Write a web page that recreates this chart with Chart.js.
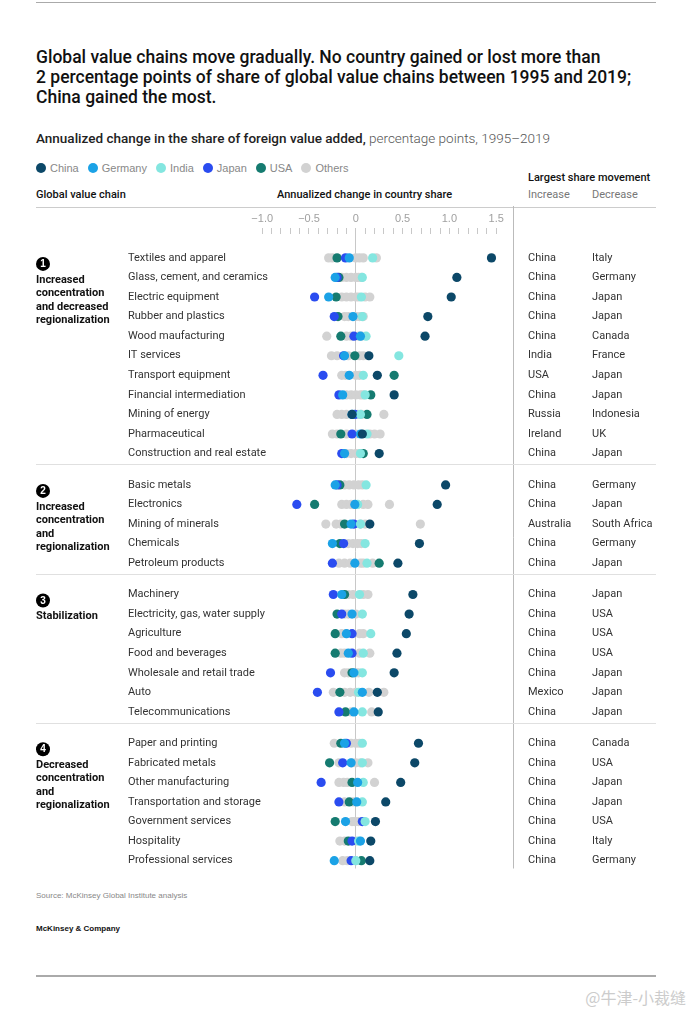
<!DOCTYPE html>
<html>
<head>
<meta charset="utf-8">
<script src="https://cdn.jsdelivr.net/npm/chart.js@4.4.1/dist/chart.umd.min.js"></script>
<style>
    body { margin: 0; background: #fff; }
    #page { position: relative; width: 690px; height: 1011px; background: #fff; font-family: "Liberation Sans", Arial, sans-serif; color: #222; overflow: hidden; }
    .abs { position: absolute; white-space: nowrap; }
    .title { left: 36px; top: 47px; font-family: "Roboto", sans-serif; font-weight: 500; font-size: 17.5px; line-height: 20px; color: #111; }
    .sub { left: 36px; top: 130px; font-family: "Roboto", sans-serif; font-size: 13.5px; color: #222; font-weight: 500; }
    .sub span { font-weight: 300; color: #555; }
    .legend { left: 36px; top: 162px; font-size: 11px; color: #888; display: flex; align-items: center; }
    .legend i { display: inline-block; width: 10px; height: 10px; border-radius: 50%; margin-right: 4px; }
    .legend b { font-weight: normal; margin-right: 9px; }
    .hdr { font-family: "Roboto", sans-serif; font-weight: 500; font-size: 11px; color: #111; }
    .hdr2 { font-family: "Roboto", sans-serif; font-size: 11px; color: #777; }
    .line { position: absolute; left: 36px; width: 620px; }
    #wrap { position: absolute; left: 0; top: 206px; width: 690px; height: 670px; }
</style>
</head>
<body>
<div id="page">
    <div class="line" style="top:2px;height:1px;background:#aaa;"></div>
    <div class="abs title">Global value chains move gradually. No country gained or lost more than<br>2 percentage points of share of global value chains between 1995 and 2019;<br>China gained the most.</div>
    <div class="abs sub">Annualized change in the share of foreign value added, <span>percentage points, 1995–2019</span></div>
    <div class="abs legend" id="legend"></div>
    <div class="abs hdr" style="left:36px;top:188px;">Global value chain</div>
    <div class="abs hdr" style="left:277px;top:188px;">Annualized change in country share</div>
    <div class="abs hdr" style="left:528px;top:171px;">Largest share movement</div>
    <div class="abs hdr2" style="left:528px;top:188px;">Increase</div>
    <div class="abs hdr2" style="left:592px;top:188px;">Decrease</div>
    <div class="line" style="top:207px;height:1px;background:#ccc;"></div>
    <div id="wrap"><canvas id="dots"></canvas></div>
    <div class="abs" style="left:36px;top:891px;font-size:8px;color:#888;">Source: McKinsey Global Institute analysis</div>
    <div class="abs" style="left:36px;top:924px;font-size:8px;color:#111;font-weight:bold;">McKinsey &amp; Company</div>
    <div class="line" style="top:975px;height:2px;background:#aaa;"></div>
    <div class="abs" style="right:4px;top:985px;font-family:'Noto Sans CJK SC',sans-serif;font-size:16px;color:#ccc;">@牛津-小裁缝</div>
</div>
<script>
// Value chains, in the order they are listed
const chains = [
    'Textiles and apparel', 'Glass, cement, and ceramics', 'Electric equipment', 'Rubber and plastics',
    'Wood maufacturing', 'IT services', 'Transport equipment', 'Financial intermediation',
    'Mining of energy', 'Pharmaceutical', 'Construction and real estate',
    'Basic metals', 'Electronics', 'Mining of minerals', 'Chemicals', 'Petroleum products',
    'Machinery', 'Electricity, gas, water supply', 'Agriculture', 'Food and beverages',
    'Wholesale and retail trade', 'Auto', 'Telecommunications',
    'Paper and printing', 'Fabricated metals', 'Other manufacturing', 'Transportation and storage',
    'Government services', 'Hospitality', 'Professional services'
];
const groupSizes = [11, 5, 7, 7];
const groupLabels = [
    ['Increased', 'concentration', 'and decreased', 'regionalization'],
    ['Increased', 'concentration', 'and', 'regionalization'],
    ['Stabilization'],
    ['Decreased', 'concentration', 'and', 'regionalization']
];

// Annualized change in country share, percentage points
const china   = [1.45, 1.08, 1.02, 0.77, 0.74, 0.14, 0.23, 0.41, -0.04, 0.07, 0.25,
                 0.96, 0.87, 0.15, 0.68, 0.45,
                 0.61, 0.57, 0.54, 0.44, 0.41, 0.23, 0.24,
                 0.67, 0.63, 0.48, 0.32, 0.21, 0.16, 0.15];
const germany = [-0.07, -0.22, -0.29, -0.03, 0.05, -0.12, -0.07, -0.14, -0.04, 0.05, -0.12,
                 -0.22, -0.01, -0.05, -0.25, -0.01,
                 -0.15, -0.04, -0.10, -0.08, -0.02, 0.07, -0.02,
                 -0.12, -0.05, 0.02, 0.01, -0.11, 0.05, -0.23];
const india   = [0.18, 0.07, 0.06, 0.07, 0.11, 0.46, 0.08, 0.10, 0.05, 0.12, 0.05,
                 0.11, 0.02, 0.05, 0.10, 0.12,
                 0.04, 0.07, 0.16, 0.08, 0.07, 0.03, 0.07,
                 0.07, 0.07, 0.08, 0.07, 0.10, 0.03, 0.00];
const japan   = [-0.11, -0.20, -0.44, -0.23, -0.02, -0.13, -0.35, -0.18, -0.01, -0.04, -0.15,
                 -0.20, -0.63, -0.02, -0.13, -0.25,
                 -0.24, -0.15, -0.04, -0.04, -0.27, -0.41, -0.18,
                 -0.10, -0.14, -0.37, -0.18, 0.07, -0.04, -0.05];
const usa     = [-0.20, -0.18, -0.21, -0.19, -0.16, -0.01, 0.41, 0.16, 0.12, -0.16, 0.08,
                 -0.17, -0.44, -0.12, -0.17, 0.25,
                 -0.12, -0.20, -0.22, -0.22, -0.04, -0.17, -0.11,
                 -0.16, -0.28, -0.04, -0.07, -0.22, -0.08, 0.06];
const others  = [
    [-0.29, -0.25, 0.00, 0.04, 0.08, 0.22],
    [-0.15, -0.10, -0.05, 0.00, 0.03, 0.06],
    [-0.15, -0.10, -0.05, 0.00, 0.03, 0.10, 0.15],
    [-0.12, -0.08, 0.00, 0.04, 0.08],
    [-0.31, -0.10, -0.05, 0.03, 0.06],
    [-0.26, -0.20, -0.08, 0.04, 0.08],
    [-0.15, -0.11, 0.00, 0.04],
    [-0.10, -0.05, 0.00, 0.05, 0.08],
    [-0.20, -0.15, -0.10, 0.02, 0.06, 0.30],
    [-0.25, -0.20, -0.10, 0.00, 0.15, 0.20, 0.26],
    [-0.10, -0.05, 0.00, 0.04],
    [-0.12, -0.07, -0.02, 0.03, 0.07],
    [-0.15, -0.10, -0.05, 0.08, 0.13, 0.36],
    [-0.32, -0.21, -0.16, 0.05, 0.10, 0.69],
    [-0.08, -0.03, 0.02, 0.06],
    [-0.18, -0.12, -0.06, 0.05, 0.08, 0.18],
    [-0.08, -0.03, 0.08, 0.13],
    [-0.12, -0.08, 0.00],
    [-0.15, -0.10, 0.04, 0.08],
    [-0.16, -0.12, 0.04, 0.15],
    [-0.12, -0.08, 0.00, 0.03],
    [-0.24, -0.12, -0.06, 0.00, 0.14, 0.30],
    [-0.05, 0.17],
    [-0.23, -0.05, 0.00, 0.04],
    [-0.18, -0.04, 0.00, 0.05, 0.13],
    [-0.18, -0.13, -0.09, 0.20],
    [-0.12, -0.03],
    [-0.04, -0.01, 0.03],
    [-0.17, -0.12, 0.00],
    [-0.14, -0.09, 0.00]
];

// Largest share movement
const increase = ['China', 'China', 'China', 'China', 'China', 'India', 'USA', 'China', 'Russia', 'Ireland', 'China',
                  'China', 'China', 'Australia', 'China', 'China',
                  'China', 'China', 'China', 'China', 'China', 'Mexico', 'China',
                  'China', 'China', 'China', 'China', 'China', 'China', 'China'];
const decrease = ['Italy', 'Germany', 'Japan', 'Japan', 'Canada', 'France', 'Japan', 'Japan', 'Indonesia', 'UK', 'Japan',
                  'Germany', 'Japan', 'South Africa', 'Germany', 'Japan',
                  'Japan', 'USA', 'USA', 'USA', 'Japan', 'Japan', 'Japan',
                  'Canada', 'USA', 'Japan', 'Japan', 'USA', 'Italy', 'Germany'];

const xTickLabels = ['−1.0', '−0.5', '0', '0.5', '1.0', '1.5'];

const series = [
    { name: 'China', values: china, color: '#0c4868' },
    { name: 'Germany', values: germany, color: '#1ba2e6' },
    { name: 'India', values: india, color: '#84e6e0' },
    { name: 'Japan', values: japan, color: '#2a4cf0' },
    { name: 'USA', values: usa, color: '#157b70' }
];
const othersColor = '#d2d2d2';

// row positions: one unit per row, plus a gap between groups
const GROUP_GAP = 0.6;
const rowPos = [];
groupSizes.forEach((n, g) => {
    for (let k = 0; k < n; k++) rowPos.push(rowPos.length + g * GROUP_GAP);
});

// Legend
const legend = document.getElementById('legend');
series.concat([{ name: 'Others', color: othersColor }]).forEach(s => {
    legend.insertAdjacentHTML('beforeend', '<i style="background:' + s.color + '"></i><b>' + s.name + '</b>');
});

const datasets = series.map(s => ({
    label: s.name,
    data: s.values.map((v, i) => ({ x: v, y: rowPos[i] })),
    backgroundColor: s.color,
    pointRadius: 4.6,
    pointHoverRadius: 4.6,
    borderWidth: 0
}));
const othersData = [];
others.forEach((row, i) => row.forEach(v => othersData.push({ x: v, y: rowPos[i] })));
datasets.push({
    label: 'Others',
    data: othersData,
    backgroundColor: othersColor,
    pointRadius: 4.6,
    pointHoverRadius: 4.6,
    borderWidth: 0
});

const LABEL_FONT = '11px Roboto, sans-serif';

// Text columns and separators drawn against the y scale
const tablePlugin = {
    id: 'tablePlugin',
    beforeDatasetsDraw(chart) {
        const ctx = chart.ctx;
        const y = chart.scales.y;
        const area = chart.chartArea;
        ctx.save();
        // vertical separator on the right of the plot
        ctx.strokeStyle = '#bbb';
        ctx.lineWidth = 1;
        ctx.beginPath();
        ctx.moveTo(area.right + 0.5, 0);
        ctx.lineTo(area.right + 0.5, area.bottom);
        ctx.stroke();
        // group separators
        ctx.strokeStyle = '#e0e0e0';
        let idx = 0;
        groupSizes.forEach((n, g) => {
            idx += n;
            if (g < groupSizes.length - 1) {
                const py = Math.round(y.getPixelForValue(rowPos[idx - 1] + 0.55)) + 0.5;
                ctx.beginPath();
                ctx.moveTo(36, py);
                ctx.lineTo(656, py);
                ctx.stroke();
            }
        });
        ctx.restore();
    },
    afterDraw(chart) {
        const ctx = chart.ctx;
        const y = chart.scales.y;
        ctx.save();
        ctx.textBaseline = 'middle';
        ctx.font = LABEL_FONT;
        ctx.fillStyle = '#333';
        chains.forEach((name, i) => {
            const py = y.getPixelForValue(rowPos[i]);
            ctx.fillText(name, 128, py);
            ctx.fillText(increase[i], 528, py);
            ctx.fillText(decrease[i], 592, py);
        });
        // group headings
        let first = 0;
        groupSizes.forEach((n, g) => {
            const py = y.getPixelForValue(rowPos[first]);
            ctx.fillStyle = '#000';
            ctx.beginPath();
            ctx.arc(43, py + 6, 7, 0, Math.PI * 2);
            ctx.fill();
            ctx.fillStyle = '#fff';
            ctx.font = 'bold 10px "Liberation Sans", Arial, sans-serif';
            ctx.textAlign = 'center';
            ctx.fillText(String(g + 1), 43, py + 6.5);
            ctx.textAlign = 'left';
            ctx.fillStyle = '#111';
            ctx.font = 'bold 11px Roboto, sans-serif';
            groupLabels[g].forEach((line, k) => {
                ctx.fillText(line, 36, py + 22 + k * 13.5);
            });
            first += n;
        });
        ctx.restore();
    }
};

new Chart(document.getElementById('dots'), {
    type: 'scatter',
    data: { datasets: datasets },
    options: {
        responsive: true,
        maintainAspectRatio: false,
        animation: false,
        layout: { padding: { left: 236, right: 177, top: 0, bottom: 7.5 } },
        plugins: { legend: { display: false }, tooltip: { enabled: false } },
        scales: {
            x: {
                type: 'linear',
                position: 'top',
                min: -1.28,
                max: 1.68,
                afterBuildTicks: scale => {
                    const ticks = [];
                    for (let k = -10; k <= 15; k++) ticks.push({ value: k / 10 });
                    scale.ticks = ticks;
                },
                afterFit: scale => { scale.height = 28; },
                border: { display: false },
                grid: {
                    drawOnChartArea: true,
                    color: c => (c.tick && Math.abs(c.tick.value) < 1e-9 ? '#c8c8c8' : 'rgba(0,0,0,0)'),
                    tickColor: '#c8c8c8',
                    tickLength: 6
                },
                ticks: {
                    autoSkip: false,
                    maxRotation: 0,
                    padding: 2,
                    color: '#a0a0a0',
                    font: { family: 'Liberation Sans', size: 11 },
                    callback: value => {
                        const k = Math.round(value * 10);
                        return k % 5 === 0 ? xTickLabels[(k + 10) / 5] : '';
                    }
                }
            },
            y: {
                type: 'linear',
                display: false,
                reverse: true,
                min: -1.22,
                max: 31.2
            }
        }
    },
    plugins: [tablePlugin]
});
</script>
</body>
</html>
